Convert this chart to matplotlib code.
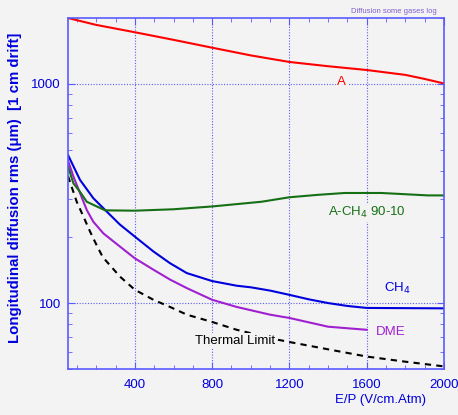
#!/usr/bin/env python3
import numpy as np
import matplotlib
matplotlib.use("Agg")
import matplotlib.pyplot as plt
from matplotlib.ticker import MultipleLocator, FixedLocator, NullFormatter

# E/P (V/cm.Atm) vs longitudinal diffusion (um)
argon_x = [54, 200, 400, 600, 800, 1000, 1200, 1400, 1600, 1800, 1900, 2000]
argon_y = [2000, 1860, 1722, 1590, 1464, 1350, 1260, 1205, 1158, 1100, 1054, 1005]

ch4_x = [54, 116, 185, 246, 323, 400, 496, 582, 669, 800, 927, 1000, 1100, 1200, 1300, 1400, 1500, 1600, 2000]
ch4_y = [474, 365, 301, 266, 228, 201, 172, 152, 137, 126, 120, 118, 114, 109, 104, 100, 97, 95, 94.6]

dme_x = [54, 82, 116, 151, 185, 237, 323, 400, 496, 582, 669, 800, 927, 1100, 1200, 1400, 1600]
dme_y = [447, 378, 318, 266, 235, 208, 181, 160, 142, 128, 117, 103.5, 96, 88.5, 85.5, 78, 75.5]

arch4_x = [54, 82, 116, 151, 203, 246, 400, 600, 800, 1055, 1200, 1350, 1486, 1676, 1917, 2000]
arch4_y = [420, 352, 322, 290, 276, 265, 264, 268, 276, 290, 304, 312, 318, 318, 310, 310]

thermal_x = [54, 99, 134, 168, 203, 234, 323, 400, 496, 582, 669, 800, 927, 1141, 1200, 1400, 1600, 1800, 2000]
thermal_y = [380, 290, 248, 212, 183, 162, 132, 115, 103.5, 96, 88.5, 82, 75.5, 68, 66.4, 61.5, 57, 54, 51.4]

bg = "#f3f3f3"
axis_blue = "#5a5aff"
text_blue = "#0000dd"

fig = plt.figure(figsize=(4.58, 4.15), dpi=100, facecolor=bg)
ax = fig.add_axes([0.1485, 0.1108, 0.821, 0.8458])
ax.set_facecolor(bg)

ax.plot(argon_x, argon_y, color="#ff0000", lw=1.5)
ax.plot(ch4_x, ch4_y, color="#0000dd", lw=1.5)
ax.plot(dme_x, dme_y, color="#a020d0", lw=1.5)
ax.plot(arch4_x, arch4_y, color="#157015", lw=1.5)
ax.plot(thermal_x, thermal_y, color="black", lw=1.5, ls=(0, (3, 2.5)))

ax.set_yscale("log")
ax.set_xlim(54, 2000)
ax.set_ylim(50, 2000)

ax.xaxis.set_major_locator(FixedLocator([400, 800, 1200, 1600, 2000]))
ax.xaxis.set_minor_locator(MultipleLocator(100))
ax.yaxis.set_major_locator(FixedLocator([100, 1000]))
ax.yaxis.set_minor_locator(FixedLocator([50, 60, 70, 80, 90, 200, 300, 400, 500, 600, 700, 800, 900, 2000]))
ax.yaxis.set_minor_formatter(NullFormatter())
ax.set_yticklabels(["100", "1000"])

ax.grid(True, which="major", color=axis_blue, ls=(0, (1, 1.5)), lw=0.8)
for sp in ax.spines.values():
    sp.set_color(axis_blue)
    sp.set_linewidth(1.2)
ax.tick_params(which="both", direction="in", top=True, right=True, colors=axis_blue,
               labelcolor=text_blue, labelsize=9.5)
ax.tick_params(which="major", length=5)
ax.tick_params(which="minor", length=3)
ax.tick_params(axis="x", pad=7)
ax.tick_params(axis="y", pad=5)
for lab in ax.get_xticklabels() + ax.get_yticklabels():
    lab.set_family("Liberation Sans")

ax.set_ylabel("Longitudinal diffusion rms (\u03bcm)  [1 cm drift]", color=text_blue,
              fontsize=10.8, fontweight="bold", family="Liberation Sans")
ax.yaxis.set_label_coords(-0.122, 0.517)
ax.set_xlabel("E/P (V/cm.Atm)", color=text_blue, fontsize=9.5,
              family="Liberation Sans", labelpad=0)
ax.xaxis.set_label_coords(0.83, -0.07)

lbl = dict(family="Liberation Sans", fontsize=9.5, ha="center", va="center",
           bbox=dict(facecolor=bg, edgecolor="none", pad=1))
ax.text(1471, 1024, "A", color="#ff0000", **lbl)
ax.text(1602, 258, "A-CH$_4$ 90-10", color="#157015", **lbl)
ax.text(1760, 117, "CH$_4$", color="#0000dd", **lbl)
ax.text(1725, 74, "DME", color="#a020d0", **lbl)
ax.text(918, 67.3, "Thermal Limit", color="black", **lbl)

fig.text(0.86, 0.973, "Diffusion some gases log", color="#8060d0", fontsize=5.5,
         ha="center", va="center", family="Liberation Sans")

fig.savefig("out.png", dpi=100, facecolor=bg)
